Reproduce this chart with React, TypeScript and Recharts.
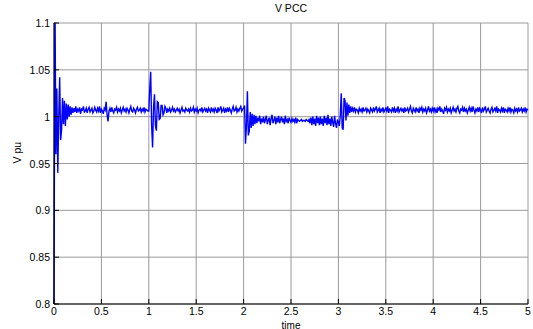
import React from "react";
import { LineChart, Line, XAxis, YAxis, CartesianGrid, Label } from "recharts";

// sample step of the recorded signal (s)
const step = 0.01;

// V PCC in pu, one array per second of simulation
const sec0 = [
  0.800, 1.130, 0.960, 1.030, 0.940, 1.000, 1.042, 0.975, 0.986, 1.020,
  0.992, 1.017, 0.990, 1.014, 0.997, 1.013, 1.000, 1.011, 1.002, 1.010,
  1.004, 1.009, 1.005, 1.011, 1.004, 1.008, 1.006, 1.010, 1.003, 1.008,
  1.007, 1.011, 1.005, 1.006, 1.009, 1.004, 1.008, 1.010, 1.005, 1.007,
  1.009, 1.004, 1.006, 1.010, 1.007, 1.005, 1.009, 1.006, 1.011, 1.004,
  1.008, 1.006, 1.003, 1.009, 1.007, 1.016, 1.002, 0.995, 1.006, 1.009,
  1.005, 1.010, 1.006, 1.004, 1.008, 1.007, 1.010, 1.005, 1.008, 1.006,
  1.009, 1.004, 1.007, 1.010, 1.006, 1.008, 1.005, 1.009, 1.007, 1.004,
  1.008, 1.011, 1.006, 1.005, 1.009, 1.007, 1.004, 1.008, 1.010, 1.006,
  1.007, 1.009, 1.005, 1.008, 1.006, 1.010, 1.005, 1.008, 1.007, 1.006,
];
const sec1 = [
  1.006, 1.030, 1.048, 0.990, 0.967, 1.010, 1.024, 0.990, 0.985, 1.016,
  1.015, 0.997, 0.998, 1.012, 1.012, 1.002, 1.004, 1.011, 1.009, 1.004,
  1.008, 1.006, 1.009, 1.005, 1.007, 1.010, 1.006, 1.008, 1.005, 1.007,
  1.009, 1.006, 1.008, 1.004, 1.007, 1.010, 1.006, 1.007, 1.005, 1.009,
  1.007, 1.006, 1.008, 1.005, 1.009, 1.006, 1.007, 1.010, 1.005, 1.008,
  1.006, 1.009, 1.004, 1.007, 1.008, 1.006, 1.010, 1.005, 1.007, 1.009,
  1.006, 1.008, 1.004, 1.009, 1.007, 1.005, 1.010, 1.006, 1.008, 1.005,
  1.009, 1.007, 1.004, 1.010, 1.006, 1.008, 1.011, 1.005, 1.007, 1.009,
  1.004, 1.008, 1.006, 1.010, 1.005, 1.009, 1.007, 1.004, 1.008, 1.011,
  1.006, 1.007, 1.010, 1.005, 1.008, 1.006, 1.009, 1.011, 1.006, 1.008,
];
const sec2 = [
  1.009, 1.012, 0.971, 0.990, 1.027, 0.980, 0.985, 1.005, 0.988, 1.003,
  0.990, 1.002, 0.992, 1.001, 0.993, 0.999, 0.995, 1.001, 0.992, 0.998,
  0.994, 1.000, 0.993, 0.997, 1.001, 0.992, 0.996, 0.999, 0.991, 0.998,
  1.002, 0.993, 0.996, 1.000, 0.992, 0.999, 0.994, 1.001, 0.993, 0.997,
  1.000, 0.994, 0.998, 0.992, 1.001, 0.995, 0.997, 0.993, 0.999, 0.996,
  0.994, 0.998, 0.995, 0.997, 0.994, 0.999, 0.993, 0.997, 0.996, 0.995,
  0.996, 0.997, 0.995, 0.996, 0.996, 0.995, 0.997, 0.996, 0.995, 0.997,
  0.993, 0.999, 0.991, 1.000, 0.992, 0.998, 0.990, 1.001, 0.993, 0.999,
  0.991, 1.000, 0.992, 0.998, 0.990, 1.001, 0.993, 0.999, 0.991, 1.002,
  0.992, 0.998, 0.990, 1.000, 0.994, 0.989, 1.001, 0.993, 0.988, 0.997,
];
const sec3 = [
  0.994, 0.990, 1.002, 1.025, 0.988, 0.986, 1.020, 1.017, 0.996, 1.015,
  1.001, 1.013, 1.004, 1.011, 1.005, 1.009, 1.006, 1.010, 1.005, 1.008,
  1.007, 1.004, 1.009, 1.006, 1.008, 1.005, 1.010, 1.006, 1.007, 1.009,
  1.005, 1.008, 1.006, 1.004, 1.009, 1.007, 1.005, 1.010, 1.006, 1.008,
  1.011, 1.005, 1.007, 1.009, 1.004, 1.008, 1.006, 1.010, 1.005, 1.007,
  1.009, 1.006, 1.011, 1.004, 1.008, 1.007, 1.005, 1.010, 1.006, 1.009,
  1.004, 1.008, 1.006, 1.011, 1.005, 1.007, 1.009, 1.006, 1.008, 1.004,
  1.010, 1.006, 1.007, 1.009, 1.005, 1.008, 1.011, 1.006, 1.004, 1.009,
  1.007, 1.005, 1.010, 1.006, 1.008, 1.004, 1.009, 1.007, 1.010, 1.005,
  1.008, 1.006, 1.009, 1.004, 1.007, 1.011, 1.006, 1.008, 1.005, 1.009,
];
const sec4 = [
  1.006, 1.010, 1.005, 1.008, 1.004, 1.009, 1.007, 1.011, 1.005, 1.008,
  1.006, 1.003, 1.009, 1.007, 1.010, 1.005, 1.008, 1.006, 1.009, 1.004,
  1.007, 1.010, 1.006, 1.008, 1.005, 1.009, 1.011, 1.006, 1.004, 1.008,
  1.007, 1.010, 1.005, 1.009, 1.006, 1.008, 1.004, 1.007, 1.010, 1.006,
  1.009, 1.005, 1.011, 1.007, 1.004, 1.008, 1.006, 1.010, 1.005, 1.009,
  1.007, 1.004, 1.010, 1.006, 1.008, 1.011, 1.005, 1.007, 1.009, 1.006,
  1.004, 1.008, 1.010, 1.005, 1.007, 1.009, 1.006, 1.011, 1.004, 1.008,
  1.007, 1.005, 1.009, 1.006, 1.010, 1.004, 1.008, 1.007, 1.005, 1.009,
  1.006, 1.010, 1.005, 1.008, 1.007, 1.004, 1.009, 1.006, 1.008, 1.005,
  1.010, 1.006, 1.007, 1.009, 1.005, 1.008, 1.006, 1.010, 1.005, 1.008,
  1.007,
];

const xTicks = [0, 0.5, 1, 1.5, 2, 2.5, 3, 3.5, 4, 4.5, 5];
const yTicks = [0.8, 0.85, 0.9, 0.95, 1, 1.05, 1.1];

const data = [sec0, sec1, sec2, sec3, sec4].flatMap((arr, s) =>
  arr.map((v, i) => ({ t: +(s + i * step).toFixed(2), v }))
);

const font = "'Liberation Sans', Arial, sans-serif";
const fs = 10.5;

const XTick = ({ x, y, payload }: any) => (
  <g>
    <line x1={x} x2={x} y1={y} y2={y - 5} stroke="#000" />
    <text x={x} y={y + 11} textAnchor="middle" fontFamily={font} fontSize={fs} fill="#000">
      {String(payload.value)}
    </text>
  </g>
);
const XTopTick = ({ x, y }: any) => <line x1={x} x2={x} y1={y} y2={y + 5} stroke="#000" />;
const YTick = ({ x, y, payload }: any) => (
  <g>
    <line x1={x} x2={x + 5} y1={y} y2={y} stroke="#000" />
    <text x={x - 4} y={y + 4} textAnchor="end" fontFamily={font} fontSize={fs} fill="#000">
      {String(payload.value)}
    </text>
  </g>
);
const YRightTick = ({ x, y }: any) => <line x1={x} x2={x - 5} y1={y} y2={y} stroke="#000" />;

export default function App() {
  return (
    <div style={{ position: "absolute", left: 0, top: 0, width: 533, height: 329, background: "#fff" }}>
      <div
        style={{
          position: "absolute", left: 54, width: 474, top: 2, textAlign: "center",
          fontFamily: font, fontSize: fs, color: "#000",
        }}
      >
        V PCC
      </div>
      <LineChart width={533} height={329} data={data} margin={{ top: 23, right: 5, bottom: 0, left: 10 }}>
        <CartesianGrid stroke="#9a9a9a" strokeWidth={1} />
        <XAxis
          dataKey="t" type="number" domain={[0, 5]} ticks={xTicks} height={25}
          tickSize={0} tickMargin={0} tickLine={false} axisLine={{ stroke: "#000" }}
          tick={<XTick />} interval={0}
        >
          <Label value="time" position="insideBottom" offset={0.5} fontFamily={font} fontSize={10} fill="#000" />
        </XAxis>
        <XAxis
          xAxisId="top" orientation="top" dataKey="t" type="number" domain={[0, 5]} ticks={xTicks}
          height={0} tickSize={0} tickMargin={0} tickLine={false} axisLine={{ stroke: "#000" }}
          tick={<XTopTick />} interval={0}
        />
        <YAxis
          type="number" domain={[0.8, 1.1]} ticks={yTicks} allowDataOverflow width={44}
          tickSize={0} tickMargin={0} tickLine={false} axisLine={{ stroke: "#000" }}
          tick={<YTick />} interval={0}
        >
          <Label value="V pu" angle={-90} position="insideLeft" offset={0} dx={7} fontFamily={font} fontSize={fs} fill="#000" />
        </YAxis>
        <YAxis
          yAxisId="right" orientation="right" type="number" domain={[0.8, 1.1]} ticks={yTicks} width={0}
          tickSize={0} tickMargin={0} tickLine={false} axisLine={{ stroke: "#000" }}
          tick={<YRightTick />} interval={0}
        />
        <Line type="linear" dataKey="v" stroke="#0000ff" strokeWidth={1.4} dot={false} isAnimationActive={false} />
      </LineChart>
    </div>
  );
}
